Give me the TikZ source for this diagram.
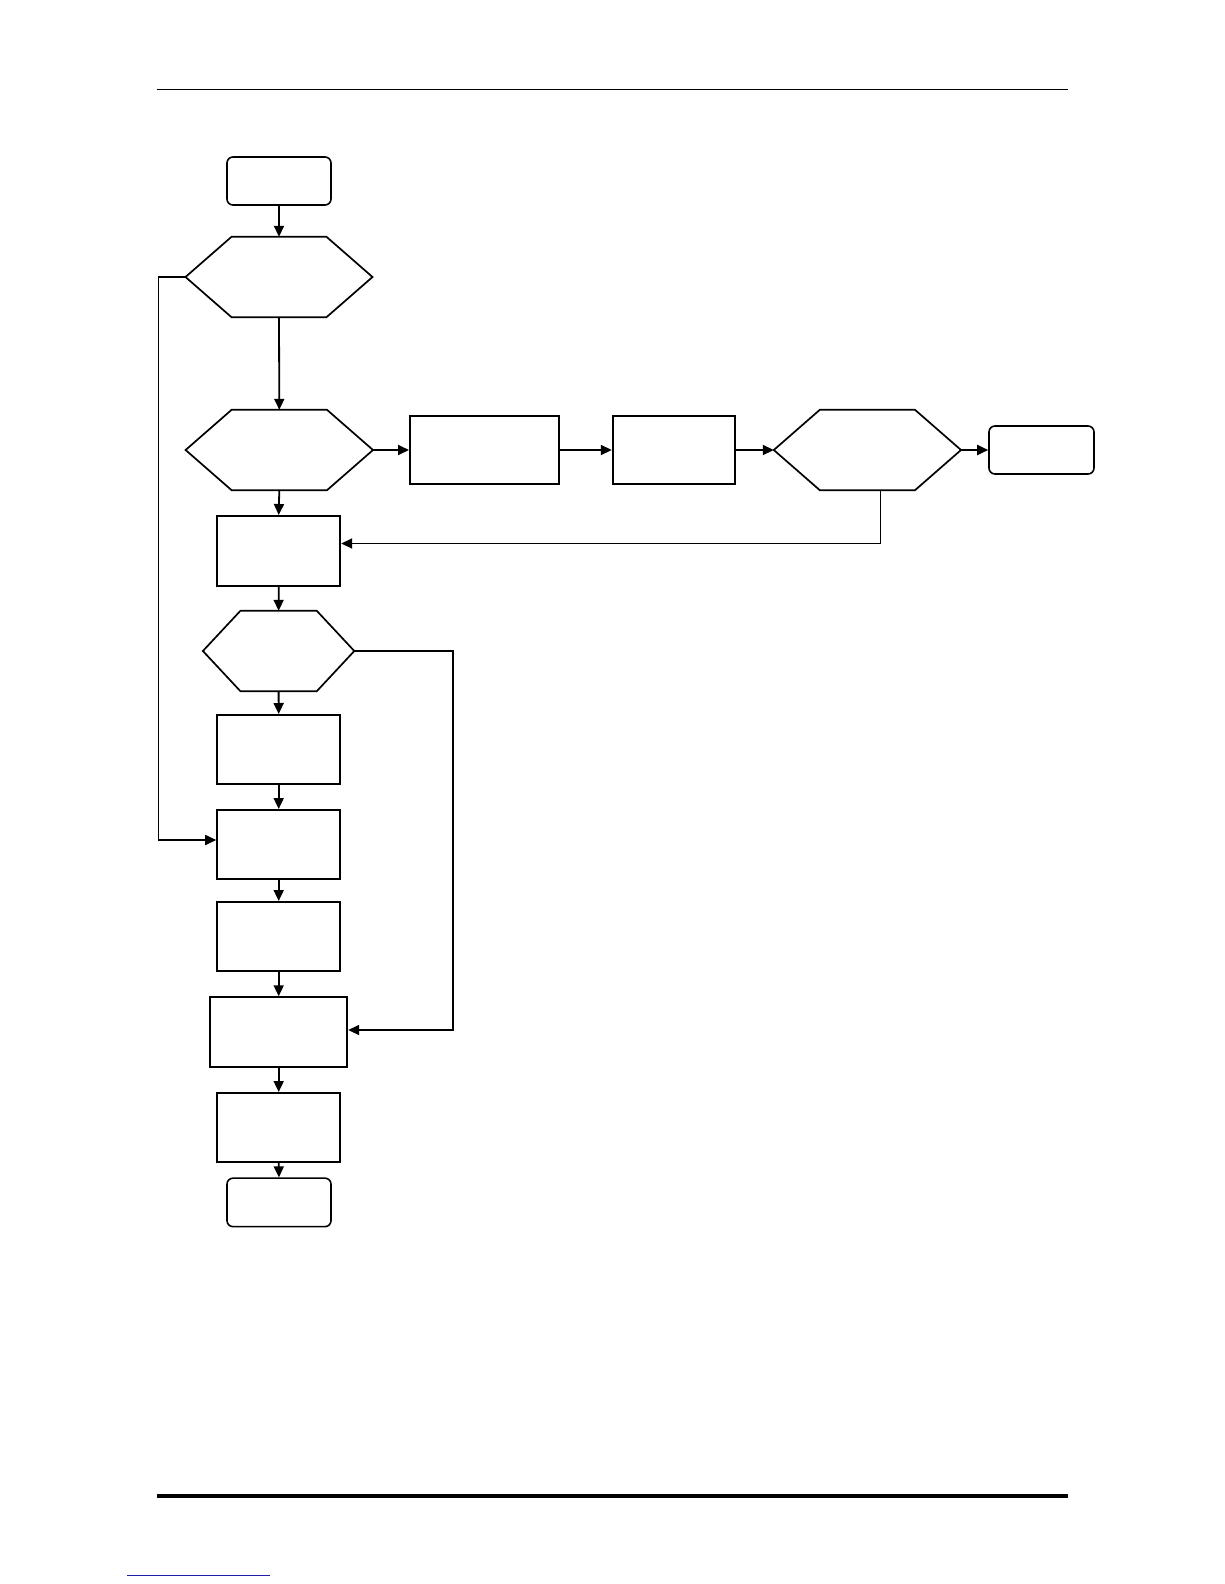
\documentclass[tikz,border=0pt]{standalone}
\usetikzlibrary{arrows.meta,calc}
\definecolor{linkblue}{RGB}{30,30,170}
\begin{document}
\begin{tikzpicture}[x=1pt,y=-1pt,
  conn/.style={line width=1.8pt,-{Triangle[length=11pt,width=10pt]}},
  boxnode/.style={draw,line width=2pt,inner sep=0pt,minimum width=123pt,minimum height=69pt},
  termnode/.style={draw,line width=1.6pt,rounded corners=6pt,inner sep=0pt,minimum width=104pt,minimum height=48pt},
  hexnode/.style={inner sep=0pt,minimum height=80pt}]
\useasboundingbox (0,0) rectangle (1224,1584);
\fill[white] (0,0) rectangle (1224,1584);
% page rules
\coordinate (tl) at (156.5,89.3);
\coordinate (tr) at (1068,89.3);
\draw[line width=1.4pt] (tl) -- (tr);
\coordinate (bl) at (156.5,1496);
\coordinate (br) at (1068,1496);
\draw[line width=3.2pt] (bl) -- (br);
\coordinate (ll) at (127,1575);
\coordinate (lr) at (270,1575);
\draw[linkblue,line width=1pt] (ll) -- (lr);
% nodes
\node[termnode] (s) at (279,181) {};
\node[hexnode,minimum width=186.6pt] (h1) at (279,277) {};
\node[hexnode,minimum width=187pt] (h2) at (279.3,450) {};
\node[boxnode,minimum width=149pt,minimum height=68.5pt] (A) at (484.5,450) {};
\node[boxnode,minimum width=122.4pt,minimum height=68.5pt] (B) at (674,450) {};
\node[hexnode,minimum width=186.8pt] (h3) at (867.4,450) {};
\node[termnode,minimum width=105pt] (e1) at (1041.5,450) {};
\node[boxnode,minimum height=70pt] (C) at (278.7,551) {};
\node[hexnode,minimum width=151pt] (h4) at (278.6,651) {};
\node[boxnode] (D) at (278.7,749.5) {};
\node[boxnode] (E) at (278.7,844.5) {};
\node[boxnode] (F) at (278.7,936.5) {};
\node[boxnode,minimum width=137pt,minimum height=69.5pt] (G) at (278.7,1032) {};
\node[boxnode] (H) at (278.7,1127.5) {};
\node[termnode,minimum height=48.5pt] (e2) at (279,1202.4) {};
% hexagon outlines
\foreach \n/\sl in {h1/46,h2/46,h3/46,h4/37.5}{
  \draw[line width=1.7pt,line join=miter] (\n.west) -- ([xshift=\sl pt]\n.north west) -- ([xshift=-\sl pt]\n.north east)
    -- (\n.east) -- ([xshift=-\sl pt]\n.south east) -- ([xshift=\sl pt]\n.south west) -- cycle;
}
% connectors
\draw[conn] (s.south) -- (h1.north);
\draw[conn] (h1.south) -- (h2.north);
\draw[conn] (h2.east) -- (A.west);
\draw[conn] (A.east) -- (B.west);
\draw[conn] (B.east) -- (h3.west);
\draw[conn] (h3.east) -- (e1.west);
\draw[conn] (h2.south) -- (C.north);
\coordinate (fb) at (880.5,543.5);
\draw[conn] (fb |- h3.south) -- (fb) -- (C.east |- fb);
\draw[conn] (C.south) -- (h4.north);
\draw[conn] (h4.south) -- (D.north);
\coordinate (rl) at (453,1030);
\draw[conn] (h4.east) -- (rl |- h4.east) -- (rl) -- (G.east |- rl);
\draw[conn] (D.south) -- (E.north);
\coordinate (ll2) at (158.5,840);
\draw[conn] (h1.west) -- (ll2 |- h1.west) -- (ll2) -- (E.west |- ll2);
\draw[conn] (E.south) -- (F.north);
\draw[conn] (F.south) -- (G.north);
\draw[conn] (G.south) -- (H.north);
\draw[conn] (H.south) -- (e2.north);
\end{tikzpicture}
\end{document}
